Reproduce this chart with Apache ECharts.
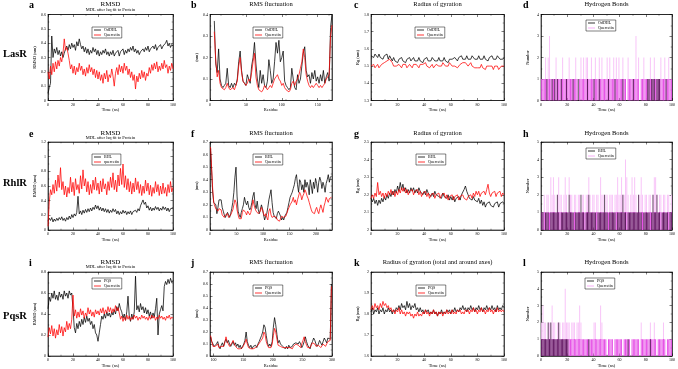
<!DOCTYPE html>
<html>
<head>
<meta charset="utf-8">
<script src="https://cdn.jsdelivr.net/npm/echarts@6/dist/echarts.min.js"></script>
<style>
html, body { margin: 0; padding: 0; background: #fff; }
#chart { width: 678px; height: 369px; }
</style>
</head>
<body>
<div id="chart"></div>
<script>
// ---- data ----

// LasR
var lasRmsdOdDHL = [
  0.05,0.09,0.12,0.45,0.30,0.36,0.33,0.37,0.32,0.35,
  0.31,0.34,0.30,0.33,0.36,0.38,0.35,0.39,0.36,0.40,
  0.37,0.39,0.35,0.41,0.38,0.43,0.39,0.36,0.38,0.34,
  0.37,0.33,0.36,0.32,0.35,0.33,0.37,0.34,0.36,0.32,
  0.35,0.31,0.34,0.32,0.35,0.33,0.36,0.32,0.34,0.31,
  0.34,0.32,0.35,0.31,0.33,0.32,0.35,0.31,0.34,0.33,
  0.36,0.32,0.35,0.33,0.36,0.34,0.37,0.35,0.38,0.34,
  0.36,0.33,0.35,0.32,0.34,0.33,0.36,0.34,0.37,0.35,
  0.38,0.34,0.36,0.35,0.38,0.36,0.39,0.35,0.37,0.36,
  0.39,0.36,0.38,0.37,0.40,0.42,0.38,0.40,0.37,0.39,
  0.38];
var lasRmsdQuer = [
  0.20,0.15,0.24,0.18,0.26,0.20,0.27,0.22,0.28,0.24,
  0.30,0.27,0.33,0.43,0.35,0.37,0.33,0.28,0.22,0.25,
  0.19,0.24,0.18,0.23,0.20,0.26,0.21,0.24,0.18,0.22,
  0.17,0.23,0.19,0.25,0.20,0.23,0.18,0.22,0.16,0.21,
  0.15,0.20,0.14,0.18,0.12,0.19,0.15,0.21,0.13,0.18,
  0.16,0.22,0.17,0.10,0.19,0.23,0.18,0.25,0.20,0.24,
  0.19,0.26,0.21,0.24,0.18,0.22,0.16,0.20,0.14,0.18,
  0.08,0.17,0.13,0.19,0.15,0.21,0.16,0.20,0.14,0.19,
  0.17,0.23,0.19,0.25,0.21,0.26,0.22,0.27,0.20,0.24,
  0.21,0.26,0.22,0.28,0.23,0.25,0.19,0.24,0.21,0.26,
  0.22];
var lasRmsfOdDHL = [
  0.37,0.17,0.13,0.24,0.10,0.07,0.06,0.07,0.08,0.15,
  0.07,0.06,0.08,0.06,0.08,0.07,0.10,0.18,0.23,0.14,
  0.09,0.08,0.07,0.12,0.10,0.08,0.16,0.20,0.27,0.17,
  0.10,0.06,0.14,0.08,0.12,0.07,0.06,0.09,0.19,0.14,
  0.08,0.10,0.18,0.27,0.22,0.28,0.18,0.20,0.23,0.09,
  0.07,0.06,0.05,0.06,0.15,0.10,0.06,0.05,0.12,0.08,
  0.10,0.16,0.22,0.25,0.14,0.11,0.12,0.08,0.13,0.10,
  0.14,0.09,0.11,0.08,0.12,0.09,0.14,0.08,0.11,0.13,
  0.09,0.34,0.40];
var lasRmsfQuer = [
  0.32,0.19,0.11,0.14,0.08,0.06,0.06,0.05,0.06,0.08,
  0.06,0.05,0.05,0.06,0.05,0.07,0.09,0.16,0.20,0.13,
  0.09,0.08,0.07,0.08,0.10,0.09,0.13,0.18,0.22,0.11,
  0.07,0.05,0.05,0.04,0.05,0.07,0.06,0.05,0.06,0.07,
  0.06,0.08,0.10,0.11,0.12,0.10,0.09,0.07,0.08,0.06,
  0.05,0.05,0.04,0.05,0.08,0.09,0.07,0.09,0.10,0.12,
  0.15,0.18,0.24,0.20,0.12,0.09,0.07,0.06,0.07,0.06,
  0.07,0.08,0.07,0.06,0.07,0.06,0.07,0.08,0.10,0.11,
  0.12,0.30,0.35];
var lasRgOdDHL = [
  1.56,1.57,1.55,1.57,1.56,1.55,1.57,1.55,1.56,1.54,
  1.56,1.55,1.57,1.54,1.56,1.55,1.53,1.55,1.53,1.54,
  1.52,1.54,1.53,1.55,1.53,1.54,1.52,1.54,1.53,1.55,
  1.53,1.54,1.55,1.53,1.54,1.53,1.55,1.53,1.54,1.52,
  1.54,1.53,1.55,1.53,1.54,1.53,1.55,1.54,1.53,1.54,
  1.53,1.55,1.53,1.54,1.53,1.55,1.53,1.54,1.52,1.54,
  1.53,1.54,1.53,1.55,1.54,1.53,1.55,1.54,1.56,1.54,
  1.55,1.54,1.56,1.54,1.55,1.54,1.56,1.55,1.54,1.55,
  1.54,1.56,1.54,1.55,1.54,1.56,1.54,1.55,1.53,1.55,
  1.54,1.56,1.54,1.55,1.54,1.56,1.55,1.54,1.55,1.54,
  1.55];
var lasRgQuer = [
  1.50,1.49,1.51,1.49,1.50,1.51,1.49,1.50,1.51,1.50,
  1.52,1.51,1.53,1.52,1.54,1.53,1.52,1.50,1.49,1.50,
  1.49,1.51,1.50,1.49,1.51,1.50,1.51,1.49,1.50,1.51,
  1.50,1.49,1.51,1.50,1.51,1.50,1.49,1.51,1.50,1.51,
  1.50,1.52,1.50,1.51,1.49,1.50,1.51,1.49,1.50,1.51,
  1.52,1.50,1.51,1.50,1.52,1.51,1.50,1.51,1.50,1.52,
  1.51,1.50,1.51,1.50,1.51,1.49,1.50,1.51,1.50,1.52,
  1.51,1.52,1.51,1.50,1.51,1.52,1.50,1.51,1.49,1.50,
  1.49,1.50,1.49,1.51,1.49,1.50,1.48,1.50,1.49,1.50,
  1.49,1.50,1.48,1.50,1.49,1.50,1.48,1.49,1.50,1.49,
  1.50];
var lasHbQuer = [
  1,1,1,2,1,2,3,1,1,1, 1,2,1,1,1,1,2,1,1,1,
  1,2,1,1,1,1,2,1,0,1, 2,1,2,1,2,2,1,1,2,1,
  1,2,1,1,2,1,2,1,1,1, 2,1,2,1,1,2,1,2,1,2,
  1,1,2,1,1,0,2,1,1,1, 1,1,3,1,2,0,1,1,2,1,
  1,1,1,2,1,1,2,1,1,1, 1,2,1,1,2,1,1,2,1,1];
var lasHbOdDHL = [
  0,0,0,0,1,0,0,0,1,0, 1,0,1,0,0,1,0,0,0,1,
  0,0,0,0,1,0,0,0,1,0, 0,0,0,0,0,1,0,0,0,0,
  1,0,0,0,1,0,0,0,0,0, 0,1,0,0,0,0,1,0,0,0,
  0,0,1,0,0,0,0,0,0,0, 1,0,0,0,0,0,0,0,0,0,
  0,1,1,0,1,1,1,0,1,1, 1,0,0,0,0,1,0,0,0,0];

// RhlR
var rhlRmsdBHL = [
  0.12,0.16,0.13,0.17,0.11,0.15,0.12,0.16,0.13,0.17,
  0.14,0.18,0.13,0.16,0.12,0.17,0.14,0.19,0.15,0.21,
  0.17,0.22,0.19,0.24,0.46,0.22,0.26,0.21,0.27,0.23,
  0.28,0.24,0.29,0.25,0.30,0.26,0.31,0.28,0.34,0.29,
  0.33,0.27,0.31,0.26,0.30,0.25,0.29,0.24,0.28,0.23,
  0.27,0.24,0.29,0.25,0.28,0.22,0.26,0.21,0.25,0.22,
  0.27,0.23,0.26,0.21,0.25,0.22,0.26,0.21,0.25,0.23,
  0.27,0.24,0.29,0.26,0.33,0.37,0.41,0.35,0.38,0.30,
  0.33,0.27,0.31,0.26,0.30,0.27,0.32,0.28,0.31,0.26,
  0.30,0.27,0.32,0.28,0.31,0.26,0.30,0.25,0.29,0.27,
  0.30];
var rhlRmsdQuer = [
  0.05,0.38,0.55,0.48,0.62,0.50,0.68,0.53,0.75,0.58,
  0.85,0.55,0.66,0.48,0.60,0.45,0.58,0.50,0.72,0.52,
  0.65,0.47,0.70,0.55,0.62,0.50,0.74,0.56,0.82,0.60,
  0.70,0.52,0.66,0.48,0.62,0.50,0.68,0.55,0.72,0.54,
  0.64,0.49,0.67,0.52,0.70,0.56,0.63,0.48,0.66,0.54,
  0.72,0.58,0.78,0.55,0.68,0.52,0.75,0.60,0.84,0.62,
  0.90,0.58,0.74,0.55,0.70,0.52,0.66,0.49,0.64,0.52,
  0.71,0.55,0.66,0.50,0.62,0.47,0.60,0.50,0.68,0.53,
  0.64,0.48,0.61,0.46,0.58,0.50,0.66,0.52,0.62,0.47,
  0.60,0.49,0.64,0.50,0.58,0.46,0.62,0.51,0.66,0.52,
  0.58];
var rhlRmsfBHL = [
  0.65,0.48,0.30,0.22,0.22,0.20,0.13,0.18,0.24,0.25,
  0.24,0.18,0.15,0.12,0.10,0.11,0.14,0.12,0.10,0.13,
  0.17,0.22,0.30,0.42,0.50,0.27,0.15,0.12,0.10,0.14,
  0.17,0.20,0.26,0.22,0.20,0.23,0.18,0.16,0.18,0.22,
  0.27,0.30,0.20,0.17,0.23,0.16,0.13,0.14,0.20,0.17,
  0.12,0.08,0.11,0.13,0.18,0.24,0.28,0.32,0.22,0.14,
  0.11,0.12,0.09,0.13,0.15,0.14,0.11,0.08,0.10,0.08,
  0.11,0.12,0.14,0.18,0.22,0.26,0.28,0.30,0.33,0.36,
  0.41,0.44,0.36,0.30,0.40,0.38,0.32,0.36,0.30,0.40,
  0.34,0.38,0.35,0.28,0.40,0.35,0.29,0.38,0.33,0.41,
  0.37,0.30,0.38,0.42,0.39,0.33,0.38,0.35,0.30,0.37,
  0.40,0.44,0.38,0.42,0.43];
var rhlRmsfQuer = [
  0.66,0.50,0.33,0.22,0.19,0.17,0.16,0.15,0.17,0.18,
  0.16,0.12,0.11,0.10,0.12,0.11,0.13,0.10,0.09,0.12,
  0.14,0.16,0.20,0.24,0.22,0.16,0.12,0.09,0.08,0.09,
  0.14,0.16,0.15,0.14,0.12,0.15,0.14,0.12,0.14,0.18,
  0.24,0.20,0.17,0.15,0.14,0.13,0.12,0.15,0.18,0.16,
  0.13,0.11,0.13,0.10,0.08,0.15,0.17,0.12,0.10,0.09,
  0.11,0.12,0.10,0.08,0.09,0.07,0.08,0.11,0.12,0.10,
  0.09,0.11,0.12,0.16,0.18,0.20,0.21,0.23,0.26,0.22,
  0.24,0.20,0.24,0.27,0.30,0.28,0.24,0.27,0.29,0.32,
  0.30,0.27,0.25,0.22,0.19,0.16,0.14,0.15,0.13,0.16,
  0.18,0.15,0.13,0.17,0.20,0.17,0.14,0.19,0.22,0.26,
  0.24,0.22,0.25,0.24,0.26];
var rhlRgBHL = [
  2.18,2.16,2.18,2.15,2.17,2.14,2.17,2.15,2.18,2.16,
  2.19,2.17,2.20,2.18,2.21,2.19,2.22,2.20,2.23,2.21,
  2.25,2.22,2.27,2.23,2.26,2.22,2.24,2.21,2.23,2.21,
  2.24,2.22,2.24,2.21,2.23,2.21,2.24,2.22,2.23,2.20,
  2.22,2.20,2.23,2.21,2.22,2.19,2.21,2.19,2.22,2.20,
  2.21,2.19,2.20,2.18,2.21,2.19,2.20,2.18,2.20,2.17,
  2.19,2.17,2.19,2.16,2.18,2.17,2.19,2.17,2.20,2.19,
  2.23,2.25,2.22,2.20,2.18,2.19,2.17,2.19,2.17,2.18,
  2.16,2.18,2.15,2.17,2.14,2.16,2.13,2.15,2.14,2.16,
  2.14,2.15,2.13,2.15,2.14,2.16,2.13,2.15,2.14,2.16,
  2.15];
var rhlRgQuer = [
  2.18,2.20,2.18,2.21,2.19,2.27,2.20,2.22,2.19,2.21,
  2.18,2.21,2.19,2.22,2.20,2.23,2.20,2.22,2.19,2.22,
  2.20,2.23,2.21,2.24,2.22,2.24,2.21,2.23,2.20,2.22,
  2.21,2.23,2.20,2.22,2.21,2.23,2.20,2.22,2.19,2.21,
  2.20,2.22,2.19,2.21,2.18,2.20,2.19,2.21,2.18,2.20,
  2.19,2.21,2.18,2.20,2.19,2.21,2.18,2.20,2.17,2.19,
  2.18,2.20,2.17,2.19,2.18,2.20,2.17,2.19,2.18,2.20,
  2.18,2.19,2.17,2.19,2.18,2.20,2.18,2.21,2.19,2.22,
  2.20,2.22,2.19,2.21,2.20,2.22,2.20,2.23,2.26,2.21,
  2.19,2.21,2.20,2.22,2.19,2.21,2.20,2.22,2.19,2.21,
  2.20];
var rhlHbQuer = [
  1,1,2,1,2,2,1,3,2,3, 2,1,2,3,2,2,1,2,3,2,
  1,3,2,2,1,2,2,1,2,2, 1,2,2,1,2,2,3,2,1,2,
  2,1,2,2,1,3,2,2,1,2, 2,1,2,2,2,1,2,2,3,2,
  2,3,2,2,4,3,2,1,2,3, 2,3,2,1,2,2,3,2,1,2,
  2,1,2,2,1,2,3,3,2,1, 2,2,1,2,2,1,2,2,1,2];
var rhlHbBHL = [
  1,1,0,1,1,1,0,1,1,1, 1,1,2,1,0,1,1,1,1,1,
  1,2,1,1,1,0,1,1,1,1, 2,1,1,0,1,1,2,1,1,1,
  1,1,0,1,1,1,1,1,2,1, 1,0,1,1,1,1,1,0,1,1,
  1,1,2,1,1,0,1,1,1,1, 1,1,1,1,2,1,1,0,1,1,
  1,1,1,0,1,2,1,1,2,1, 1,0,1,1,1,1,1,0,1,1];

// PqsR
var pqsRmsdPQS = [
  0.45,0.56,0.52,0.60,0.55,0.62,0.54,0.58,0.53,0.61,
  0.56,0.59,0.54,0.62,0.57,0.60,0.55,0.62,0.58,0.60,
  0.45,0.27,0.22,0.31,0.26,0.33,0.28,0.35,0.30,0.37,
  0.32,0.38,0.33,0.36,0.30,0.33,0.26,0.30,0.22,0.20,
  0.14,0.22,0.30,0.38,0.35,0.40,0.36,0.42,0.38,0.41,
  0.37,0.42,0.39,0.44,0.40,0.47,0.43,0.50,0.45,0.42,
  0.36,0.40,0.34,0.42,0.57,0.38,0.33,0.40,0.35,0.42,
  0.76,0.44,0.48,0.42,0.50,0.44,0.47,0.41,0.46,0.40,
  0.44,0.38,0.42,0.36,0.41,0.37,0.45,0.55,0.20,0.40,
  0.44,0.48,0.43,0.66,0.71,0.68,0.73,0.69,0.74,0.70,
  0.72];
var pqsRmsdQuer = [
  0.18,0.27,0.21,0.29,0.19,0.26,0.17,0.25,0.20,0.30,
  0.22,0.28,0.19,0.27,0.23,0.33,0.25,0.31,0.26,0.35,
  0.58,0.38,0.44,0.36,0.42,0.37,0.45,0.39,0.43,0.36,
  0.41,0.38,0.46,0.40,0.44,0.38,0.42,0.37,0.44,0.40,
  0.43,0.39,0.45,0.41,0.46,0.40,0.44,0.41,0.47,0.42,
  0.46,0.41,0.45,0.42,0.48,0.43,0.46,0.41,0.35,0.38,
  0.33,0.37,0.34,0.39,0.35,0.38,0.34,0.37,0.35,0.39,
  0.36,0.38,0.34,0.37,0.35,0.39,0.36,0.38,0.35,0.37,
  0.34,0.38,0.35,0.39,0.36,0.38,0.34,0.37,0.35,0.39,
  0.36,0.38,0.35,0.37,0.34,0.38,0.36,0.39,0.35,0.37,
  0.36];
var pqsRmsfPQS = [
  0.16,0.12,0.10,0.08,0.07,0.10,0.12,0.08,0.06,0.09,
  0.11,0.08,0.12,0.14,0.11,0.13,0.10,0.08,0.10,0.12,
  0.09,0.11,0.08,0.10,0.07,0.09,0.06,0.08,0.10,0.13,
  0.20,0.12,0.09,0.07,0.09,0.06,0.08,0.07,0.09,0.07,
  0.10,0.12,0.13,0.17,0.20,0.26,0.24,0.17,0.11,0.08,
  0.10,0.08,0.12,0.24,0.32,0.26,0.18,0.11,0.13,0.10,
  0.11,0.08,0.07,0.06,0.08,0.06,0.09,0.07,0.06,0.08,
  0.10,0.09,0.11,0.12,0.10,0.12,0.10,0.07,0.09,0.12,
  0.16,0.12,0.09,0.08,0.06,0.10,0.12,0.15,0.13,0.10,
  0.08,0.10,0.13,0.11,0.09,0.12,0.15,0.13,0.11,0.15,
  0.16,0.14,0.60];
var pqsRmsfQuer = [
  0.17,0.12,0.08,0.07,0.08,0.09,0.10,0.07,0.06,0.08,
  0.09,0.08,0.11,0.16,0.12,0.10,0.08,0.09,0.11,0.13,
  0.10,0.08,0.07,0.06,0.07,0.06,0.06,0.07,0.09,0.11,
  0.14,0.10,0.07,0.06,0.06,0.07,0.06,0.06,0.07,0.07,
  0.09,0.10,0.12,0.13,0.15,0.20,0.18,0.12,0.09,0.07,
  0.08,0.07,0.10,0.17,0.23,0.20,0.14,0.09,0.10,0.08,
  0.07,0.07,0.06,0.07,0.06,0.07,0.06,0.07,0.08,0.06,
  0.08,0.09,0.10,0.11,0.09,0.08,0.07,0.10,0.13,0.16,
  0.12,0.09,0.07,0.06,0.07,0.09,0.11,0.12,0.10,0.08,
  0.07,0.09,0.08,0.07,0.08,0.10,0.09,0.08,0.10,0.12,
  0.11,0.13,0.58];
var pqsRgPQS = [
  1.81,1.83,1.80,1.82,1.81,1.83,1.80,1.82,1.81,1.83,
  1.80,1.82,1.81,1.83,1.81,1.82,1.80,1.82,1.81,1.83,
  1.82,1.84,1.82,1.85,1.83,1.84,1.82,1.86,1.83,1.85,
  1.82,1.84,1.83,1.85,1.82,1.83,1.81,1.83,1.81,1.82,
  1.80,1.82,1.81,1.82,1.80,1.81,1.80,1.82,1.80,1.81,
  1.79,1.81,1.80,1.82,1.80,1.81,1.80,1.82,1.81,1.82,
  1.80,1.82,1.81,1.83,1.81,1.82,1.81,1.83,1.82,1.84,
  1.82,1.83,1.81,1.83,1.82,1.84,1.82,1.83,1.81,1.83,
  1.82,1.84,1.82,1.83,1.81,1.83,1.82,1.84,1.82,1.83,
  1.82,1.84,1.82,1.83,1.81,1.84,1.82,1.83,1.82,1.84,
  1.83];
var pqsRgQuer = [
  1.82,1.84,1.82,1.85,1.83,1.84,1.82,1.85,1.83,1.86,
  1.84,1.85,1.83,1.84,1.82,1.83,1.81,1.82,1.80,1.82,
  1.81,1.83,1.80,1.82,1.80,1.81,1.79,1.81,1.80,1.81,
  1.79,1.80,1.78,1.80,1.79,1.81,1.79,1.80,1.79,1.81,
  1.80,1.82,1.80,1.81,1.79,1.81,1.80,1.82,1.80,1.81,
  1.79,1.81,1.80,1.81,1.79,1.81,1.80,1.82,1.80,1.81,
  1.80,1.82,1.80,1.81,1.80,1.82,1.81,1.82,1.80,1.81,
  1.80,1.82,1.81,1.82,1.80,1.82,1.81,1.83,1.81,1.82,
  1.80,1.82,1.81,1.83,1.81,1.82,1.80,1.82,1.81,1.83,
  1.81,1.82,1.80,1.82,1.81,1.83,1.81,1.82,1.81,1.82,
  1.81];
var pqsHbQuer = [
  2,3,2,2,1,2,2,2,3,2, 2,1,2,2,2,1,2,2,4,2,
  2,2,1,2,2,2,1,2,2,3, 2,1,1,1,1,1,1,1,1,1,
  2,2,1,1,1,3,2,1,1,1, 0,1,1,1,1,0,1,1,1,1,
  1,1,0,1,1,1,1,1,0,1, 1,1,1,1,1,0,2,1,1,1,
  1,1,1,2,1,1,2,1,0,1, 1,1,1,2,1,0,1,1,1,1];
var pqsHbPQS = [
  1,1,1,1,1,2,1,2,1,1, 1,1,1,2,1,1,1,1,1,1,
  1,0,0,0,0,0,0,0,0,0, 0,0,0,0,0,0,1,0,0,0,
  0,0,0,0,0,0,0,0,0,0, 0,0,0,0,0,0,0,0,0,0,
  0,0,0,0,0,0,1,0,0,0, 0,0,0,0,0,0,0,0,0,0,
  0,0,0,1,0,0,0,0,0,0, 0,0,0,0,0,0,0,0,0,0];

// x domains: time (ns), residue numbers, H-bond frames
function range(a, b, s) { var r = []; for (var v = a; v <= b + 1e-9; v += s) r.push(v); return r; }
var timeNs = range(0, 100, 1);
var hbTime = range(0.5, 99.5, 1);
var lasRes = range(6, 170, 2);
var rhlRes = range(1, 229, 2);
var pqsRes = range(95, 299, 2);

// ---- layout ----
var SERIF = '"Liberation Serif", "DejaVu Serif", serif';
var COLS = [[48, 173], [210, 332], [371, 504], [541, 672]];
var ROWS = [[14.5, 100.5], [142, 230], [272, 360]];
var RED = '#ff0000';
var MAG = '#e650e6';
var PALE = '#f8c4f8';

var panels = [
  { l: 'a', r: 0, c: 0, kind: 'line', title: 'RMSD', sub: 'MDL after lsq fit to Protein', xName: 'Time (ns)', yName: 'RMSD (nm)',
    xr: [0, 100, 20], yr: [0, 0.6, 0.1], xs: timeNs, lig: 'OdDHL', ligV: lasRmsdOdDHL, q: 'Quercetin', qV: lasRmsdQuer, leg: [92, 27] },
  { l: 'b', r: 0, c: 1, kind: 'line', title: 'RMS fluctuation', xName: 'Residue', yName: '(nm)',
    xr: [0, 170], xt: [0, 50, 100, 150], yr: [0, 0.4, 0.1], xs: lasRes, lig: 'OdDHL', ligV: lasRmsfOdDHL, q: 'Quercetin', qV: lasRmsfQuer, leg: [253, 27] },
  { l: 'c', r: 0, c: 2, kind: 'line', title: 'Radius of gyration', xName: 'Time (ns)', yName: 'Rg (nm)',
    xr: [0, 100, 20], yr: [1.3, 1.8, 0.1], xs: timeNs, lig: 'OdDHL', ligV: lasRgOdDHL, q: 'Quercetin', qV: lasRgQuer, leg: [415, 27] },
  { l: 'd', r: 0, c: 3, kind: 'hb', title: 'Hydrogen Bonds', xName: 'Time (ns)', yName: 'Number',
    xr: [0, 100, 20], yr: [0, 4, 1], xs: hbTime, lig: 'OdDHL', ligV: lasHbOdDHL, q: 'Quercetin', qV: lasHbQuer, leg: [586, 20] },

  { l: 'e', r: 1, c: 0, kind: 'line', title: 'RMSD', sub: 'MDL after lsq fit to Protein', xName: 'Time (ns)', yName: 'RMSD (nm)',
    xr: [0, 100, 20], yr: [0, 1.2, 0.2], xs: timeNs, lig: 'BHL', ligV: rhlRmsdBHL, q: 'quercetin', qV: rhlRmsdQuer, leg: [92, 154] },
  { l: 'f', r: 1, c: 1, kind: 'line', title: 'RMS fluctuation', xName: 'Residue', yName: '(nm)',
    xr: [0, 230], xt: [0, 50, 100, 150, 200], yr: [0, 0.7, 0.1], xs: rhlRes, lig: 'BHL', ligV: rhlRmsfBHL, q: 'Quercetin', qV: rhlRmsfQuer, leg: [253, 154] },
  { l: 'g', r: 1, c: 2, kind: 'line', title: 'Radius of gyration', xName: 'Time (ns)', yName: 'Rg (nm)',
    xr: [0, 100, 20], yr: [2, 2.5, 0.1], xs: timeNs, lig: 'BHL', ligV: rhlRgBHL, q: 'Quercetin', qV: rhlRgQuer, leg: [416, 154] },
  { l: 'h', r: 1, c: 3, kind: 'hb', title: 'Hydrogen Bonds', xName: 'Time (ns)', yName: 'Number',
    xr: [0, 100, 20], yr: [0, 5, 1], xs: hbTime, lig: 'BHL', ligV: rhlHbBHL, q: 'Quercetin', qV: rhlHbQuer, leg: [586, 148] },

  { l: 'i', r: 2, c: 0, kind: 'line', title: 'RMSD', sub: 'MDL after lsq fit to Protein', xName: 'Time (ns)', yName: 'RMSD (nm)',
    xr: [0, 100, 20], yr: [0, 0.8, 0.2], xs: timeNs, lig: 'PQS', ligV: pqsRmsdPQS, q: 'Quercetin', qV: pqsRmsdQuer, leg: [92, 278] },
  { l: 'j', r: 2, c: 1, kind: 'line', title: 'RMS fluctuation', xName: 'Residue', yName: '(nm)',
    xr: [94, 300], xt: [100, 150, 200, 250, 300], yr: [0, 0.7, 0.1], xs: pqsRes, lig: 'PQS', ligV: pqsRmsfPQS, q: 'Quercetin', qV: pqsRmsfQuer, leg: [253, 285] },
  { l: 'k', r: 2, c: 2, kind: 'line', title: 'Radius of gyration (total and around axes)', xName: 'Time (ns)', yName: 'Rg (nm)',
    xr: [0, 100, 20], yr: [1.6, 2, 0.1], xs: timeNs, lig: 'PQS', ligV: pqsRgPQS, q: 'Quercetin', qV: pqsRgQuer, leg: [416, 285] },
  { l: 'l', r: 2, c: 3, kind: 'hb', title: 'Hydrogen Bonds', xName: 'Time (ns)', yName: 'Number',
    xr: [0, 100, 20], yr: [0, 5, 1], xs: hbTime, lig: 'PQS', ligV: pqsHbPQS, q: 'Quercetin', qV: pqsHbQuer, leg: [585, 278] }
];

var rowLabels = ['LasR', 'RhlR', 'PqsR'];
var rowLabelY = [54, 183, 316];
var titleY = [4.7, 133.3, 262.5];

function pairs(xs, ys) {
  return ys.map(function (v, i) { return [xs[i], v]; });
}

// quercetin H-bond bar: strong colour for the first bond, pale above it
function hbQuerItem(x, v) {
  if (v <= 1) return [x, v];
  var k = (v - 1) / v;
  return {
    value: [x, v],
    itemStyle: {
      color: {
        type: 'linear', x: 0, y: 0, x2: 0, y2: 1,
        colorStops: [
          { offset: 0, color: PALE }, { offset: k, color: PALE },
          { offset: k, color: MAG }, { offset: 1, color: MAG }
        ]
      }
    }
  };
}

function makeAxis(idx, name, range3, ticks, isY, mirror) {
  var ax = {
    gridIndex: idx, type: 'value', min: range3[0], max: range3[1],
    axisLine: { show: true, onZero: false, lineStyle: { color: '#000', width: 0.6 } },
    axisTick: { show: true, inside: true, length: 2.5, lineStyle: { color: '#000', width: 0.5 } },
    minorTick: { show: true, splitNumber: 2, length: 1.3, lineStyle: { color: '#000', width: 0.4 } },
    splitLine: { show: false },
    axisLabel: { show: !mirror, fontSize: 4, color: '#000', fontFamily: SERIF, margin: 2 }
  };
  if (mirror) {
    ax.position = isY ? 'right' : 'top';
  } else {
    ax.name = name;
    ax.nameLocation = 'middle';
    ax.nameGap = isY ? 11 : 7;
    ax.nameTextStyle = { fontSize: 4.5, color: '#000', fontFamily: SERIF };
  }
  if (range3[2]) ax.interval = range3[2];
  if (ticks) {
    ax.axisLabel.customValues = ticks;
    ax.axisTick.customValues = ticks;
  }
  return ax;
}

var grids = [], xAxes = [], yAxes = [], series = [], legends = [], texts = [];

panels.forEach(function (p, i) {
  var cx = COLS[p.c], ry = ROWS[p.r];
  grids.push({
    left: cx[0], top: ry[0], width: cx[1] - cx[0], height: ry[1] - ry[0],
    show: true, borderColor: '#000', borderWidth: 0.6, backgroundColor: 'transparent'
  });
  xAxes[i] = makeAxis(i, p.xName, p.xr, p.xt, false, false);
  yAxes[i] = makeAxis(i, p.yName, p.yr, null, true, false);
  xAxes[panels.length + i] = makeAxis(i, '', p.xr, p.xt, false, true);
  yAxes[panels.length + i] = makeAxis(i, '', p.yr, null, true, true);

  var ligColor = '#000';
  var qColor = p.kind === 'hb' ? '#f49af4' : RED;

  if (p.kind === 'line') {
    series.push({
      type: 'line', name: p.lig, xAxisIndex: i, yAxisIndex: i,
      data: pairs(p.xs, p.ligV), showSymbol: false, symbol: 'none',
      lineStyle: { color: '#000', width: 0.75 }, itemStyle: { color: '#000' }
    });
    series.push({
      type: 'line', name: p.q, xAxisIndex: i, yAxisIndex: i,
      data: pairs(p.xs, p.qV), showSymbol: false, symbol: 'none',
      lineStyle: { color: RED, width: 0.75 }, itemStyle: { color: RED }
    });
  } else {
    series.push({
      type: 'bar', name: p.q, xAxisIndex: i, yAxisIndex: i, barWidth: 1, barGap: '-100%',
      data: p.qV.map(function (v, k) { return hbQuerItem(p.xs[k], v); }),
      itemStyle: { color: MAG }
    });
    series.push({
      type: 'bar', name: p.lig, xAxisIndex: i, yAxisIndex: i, barWidth: 1, barGap: '-100%',
      data: pairs(p.xs, p.ligV),
      itemStyle: { color: 'rgba(25,0,25,0.65)' }
    });
  }

  legends.push({
    left: p.leg[0], top: p.leg[1], orient: 'vertical',
    data: [
      { name: p.lig, itemStyle: { color: ligColor }, lineStyle: { color: ligColor } },
      { name: p.q, itemStyle: { color: qColor }, lineStyle: { color: qColor } }
    ],
    icon: 'rect', itemWidth: 7, itemHeight: 0.8, itemGap: 1,
    padding: [1, 2, 1, 2], borderColor: '#000', borderWidth: 0.5, backgroundColor: '#fff',
    textStyle: { fontSize: 4, color: '#000', fontFamily: SERIF, padding: [0, 0, 0, -2] },
    selectedMode: false
  });

  var midX = (cx[0] + cx[1]) / 2;
  var ty = titleY[p.r];
  if (p.sub) {
    texts.push({ type: 'text', x: midX, y: ty - 0.3, style: { text: p.title, fill: '#000', font: '7px ' + SERIF, textAlign: 'center', textVerticalAlign: 'middle' } });
    texts.push({ type: 'text', x: midX, y: ty + 4.8, style: { text: p.sub, fill: '#000', font: '4.5px ' + SERIF, textAlign: 'center', textVerticalAlign: 'middle' } });
  } else {
    texts.push({ type: 'text', x: midX, y: ty, style: { text: p.title, fill: '#000', font: '6.5px ' + SERIF, textAlign: 'center', textVerticalAlign: 'middle' } });
  }
  var letterX = [29, 191, 354, 523][p.c];
  texts.push({ type: 'text', x: letterX, y: ty + 1, style: { text: p.l, fill: '#000', font: 'bold 10px ' + SERIF, textAlign: 'left', textVerticalAlign: 'middle' } });
});

rowLabels.forEach(function (name, r) {
  texts.push({ type: 'text', x: 3, y: rowLabelY[r], style: { text: name, fill: '#000', font: 'bold 10.5px ' + SERIF, textAlign: 'left', textVerticalAlign: 'middle' } });
});

var chart = echarts.init(document.getElementById('chart'), null, { renderer: 'canvas' });
chart.setOption({
  animation: false,
  backgroundColor: '#fff',
  textStyle: { fontFamily: SERIF },
  grid: grids,
  xAxis: xAxes,
  yAxis: yAxes,
  legend: legends,
  graphic: texts,
  series: series
});
</script>
</body>
</html>
